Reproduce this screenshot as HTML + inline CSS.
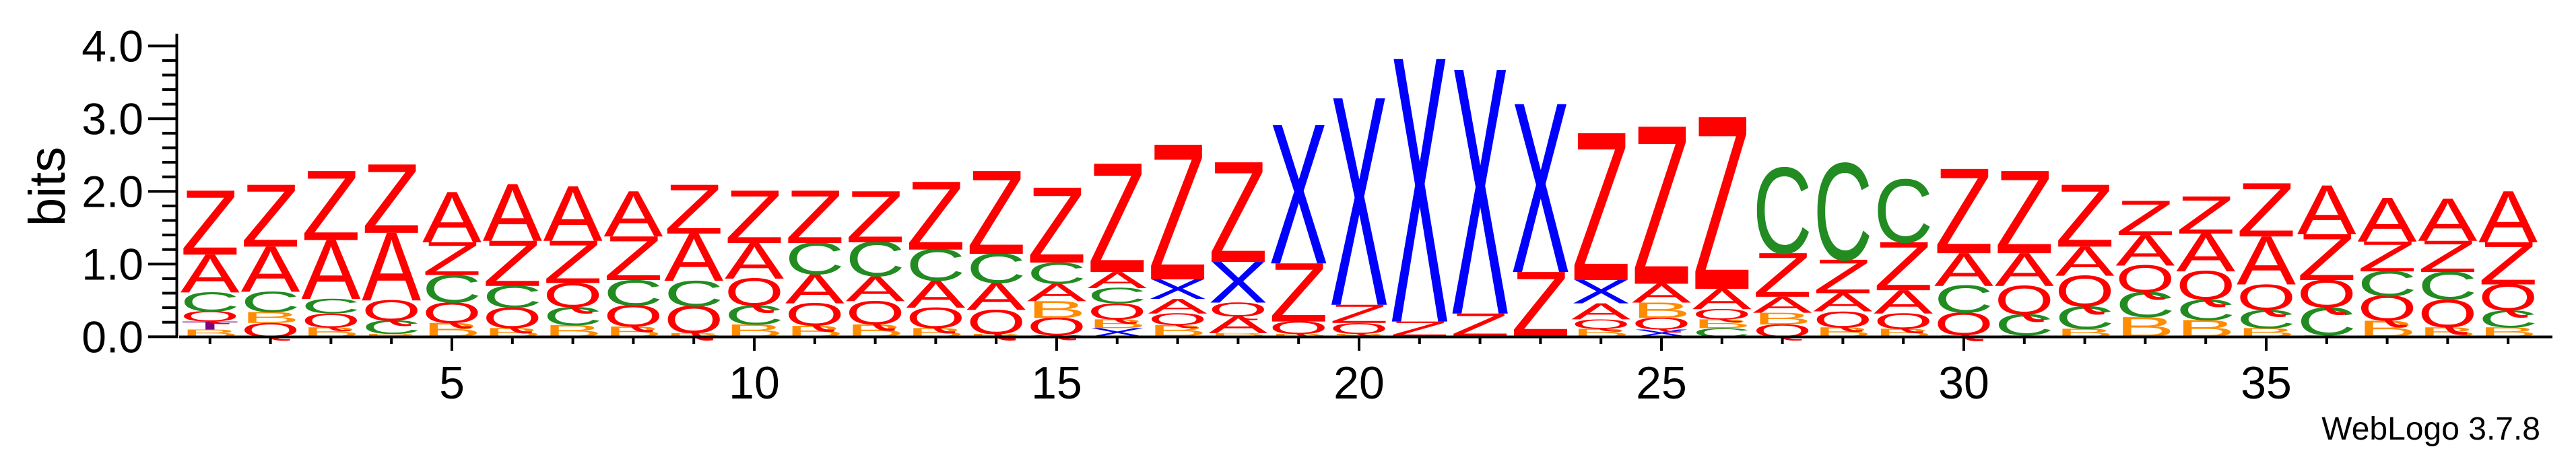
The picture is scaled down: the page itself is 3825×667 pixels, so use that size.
<!DOCTYPE html>
<html><head><meta charset="utf-8"><style>
html,body{margin:0;padding:0;background:#fff;}
svg{display:block;font-family:"Liberation Sans",Arial,sans-serif;}
</style></head><body>
<svg id="logo" width="3825" height="667" viewBox="0 0 3825 667" xmlns="http://www.w3.org/2000/svg">
<g id="stacks"></g>
<g id="axes"></g>
<text x="0" y="0" font-size="76" transform="translate(96,277) rotate(-90)" text-anchor="middle">bits</text>
<text x="3772" y="653" font-size="48" text-anchor="end">WebLogo 3.7.8</text>
</svg>
<script>
const positions = [1,2,3,4,5,6,7,8,9,10,11,12,13,14,15,16,17,18,19,20,21,22,23,24,25,26,27,28,29,30,31,32,33,34,35,36,37,38,39];
const stackLetters = [
 "BTQCAZ","QBCAZ","BQCAZ","BCQAZ","BQCZA","BQCZA","BCQZA","BQCZA","BQCAZ","BCQAZ",
 "BQACZ","BQACZ","BQACZ","BQACZ","XQBACZ","XBQCAZ","CBQAXZ","CBAQXZ","CBQZX","CBQZX",
 "CZX","CZX","QZX","BQAXZ","XQBAZ","CBQAZ","QBAZC","BQAZC","BQAZC","BQCAZ",
 "BCQAZ","BCQAZ","BCQAZ","BCQAZ","BCQAZ","BCQZA","BQCZA","BQCZA","BCQZA"
];
const stackBits = [
 [0.10,0.11,0.14,0.26,0.52,0.88],[0.19,0.15,0.28,0.62,0.85],[0.13,0.19,0.20,0.81,0.95],[0.04,0.18,0.28,0.93,0.94],
 [0.19,0.28,0.38,0.45,0.69],[0.12,0.28,0.30,0.62,0.78],[0.16,0.25,0.33,0.58,0.75],[0.14,0.29,0.35,0.60,0.62],
 [0.05,0.37,0.35,0.65,0.67],[0.17,0.26,0.37,0.49,0.72],[0.15,0.31,0.40,0.43,0.72],[0.17,0.32,0.34,0.47,0.70],
 [0.12,0.28,0.37,0.43,0.93],[0.04,0.33,0.37,0.40,1.14],[0.02,0.24,0.23,0.24,0.29,1.03],[0.12,0.12,0.22,0.21,0.22,1.49],
 [0.01,0.15,0.16,0.20,0.27,1.85],[0.01,0.04,0.23,0.19,0.56,1.37],[0.01,0.03,0.17,0.80,1.90],[0.02,0.02,0.15,0.25,2.84],
 [0.01,0.20,3.61],[0.01,0.31,3.35],[0.01,0.88,2.31],[0.11,0.13,0.22,0.32,2.02],[0.10,0.16,0.21,0.26,2.16],
 [0.12,0.12,0.14,0.28,2.36],[0.17,0.16,0.22,0.60,1.17],[0.13,0.22,0.25,0.46,1.32],[0.11,0.21,0.32,0.66,0.86],
 [0.02,0.31,0.37,0.45,1.16],[0.02,0.29,0.39,0.45,1.13],[0.11,0.31,0.42,0.40,0.85],[0.27,0.34,0.37,0.42,0.47],
 [0.23,0.28,0.39,0.52,0.51],[0.12,0.25,0.35,0.66,0.73],[0.02,0.38,0.38,0.63,0.67],[0.22,0.34,0.34,0.41,0.60],
 [0.13,0.38,0.38,0.43,0.58],[0.13,0.23,0.36,0.58,0.70]
];
const yTickValues = [0,1,2,3,4];
const yTickLabels = ["0.0","1.0","2.0","3.0","4.0"];
const xLabelPositions = [5,10,15,20,25,30,35];

const NS = "http://www.w3.org/2000/svg";
const colors = {A:"#ff0000",Z:"#ff0000",Q:"#ff0000",C:"#228b22",B:"#ff8c00",X:"#0000ff",T:"#800080"};
const x0 = 311.8, colW = 89.8, base = 500.3, bitPx = 108, capH = 68.8;
function xScale(p){ return x0 + (p-1)*colW; }
function yScale(b){ return base - b*bitPx; }
function mk(tag, attrs, parent){ const e=document.createElementNS(NS,tag); for(const k in attrs) e.setAttribute(k,attrs[k]); parent.appendChild(e); return e; }

const stacks = document.getElementById("stacks");
positions.forEach((p, i) => {
  const g = mk("g", {}, stacks);
  
  
  let cum = 0;
  const letters = stackLetters[i], bits = stackBits[i];
  for (let j = 0; j < letters.length; j++) {
    const h = bits[j];
    const yb = yScale(cum);
    const hp = yb - yScale(cum + h);
    cum += h;
    if (hp < 0.4) continue;
    const L = 88;
    const t = mk("text", {x:0, y:0, "font-size":100, textLength:L, lengthAdjust:"spacingAndGlyphs",
      fill: colors[letters[j]],
      transform: "translate(" + (xScale(p) - L/2) + "," + yb + ") scale(1," + (hp/capH) + ")"}, g);
    
    
    t.textContent = letters[j];
  }
});

const axes = document.getElementById("axes");
const yl = mk("rect", {x:260.5, y:50, width:4, height:452.3, fill:"#000"}, axes);


for (let k = 0; k <= 20; k++) {
  const b = k*0.2, major = (k % 5 === 0);
  const tk = mk("rect", {x: major ? 220 : 241, y: yScale(b) - 2, width: major ? 42 : 21, height: 4, fill:"#000"}, axes);
  
  
}
yTickValues.forEach((v, i) => {
  const t = mk("text", {x:213, y: yScale(v) + 23, "font-size":66, "text-anchor":"end", fill:"#000"}, axes);
  
  
  t.textContent = yTickLabels[i];
});
const xl = mk("rect", {x:266, y:498.5, width:3524, height:4, fill:"#000"}, axes);


positions.forEach(p => {
  const major = xLabelPositions.includes(p);
  const tk = mk("rect", {x: xScale(p) - 2, y: 502, width: 4, height: major ? 19 : 9, fill:"#000"}, axes);
  
  
});
xLabelPositions.forEach(p => {
  const t = mk("text", {x: xScale(p), y: 592, "font-size":68, "text-anchor":"middle", fill:"#000"}, axes);
  
  
  t.textContent = String(p);
});
</script>
</body></html>
